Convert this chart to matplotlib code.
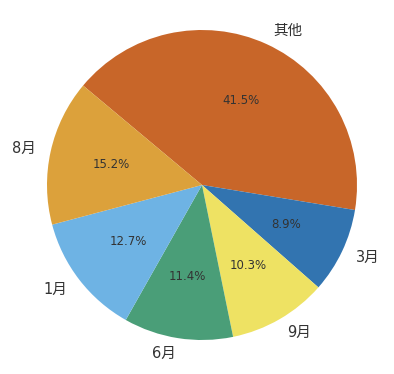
import matplotlib
matplotlib.use("Agg")
import matplotlib.pyplot as plt

plt.rcParams['font.family'] = ['DejaVu Sans', 'Noto Sans CJK SC']

labels = ["其他", "3月", "9月", "6月", "1月", "8月"]
values = [41.5, 8.9, 10.3, 11.4, 12.7, 15.2]
colors = ["#c86629", "#3274b0", "#eee263", "#4a9e78", "#6eb3e4", "#dca13b"]

fig = plt.figure(figsize=(3.94, 3.74), dpi=100)
ax = fig.add_axes([0, 0, 1, 1])
wedges, texts, autotexts = ax.pie(
    values, labels=labels, colors=colors, startangle=140.1, counterclock=False,
    autopct="%.1f%%", pctdistance=0.6, labeldistance=1.1,
    textprops={"fontsize": 10.5, "color": "#333333"})
for t in autotexts:
    t.set_fontsize(8.5)
    t.set_color("#333333")
ax.set_xlim(-202/155, 192/155)
ax.set_ylim(-189/155, 185/155)
ax.set_aspect('auto')
ax.axis('off')
fig.savefig("out.png", dpi=100)
